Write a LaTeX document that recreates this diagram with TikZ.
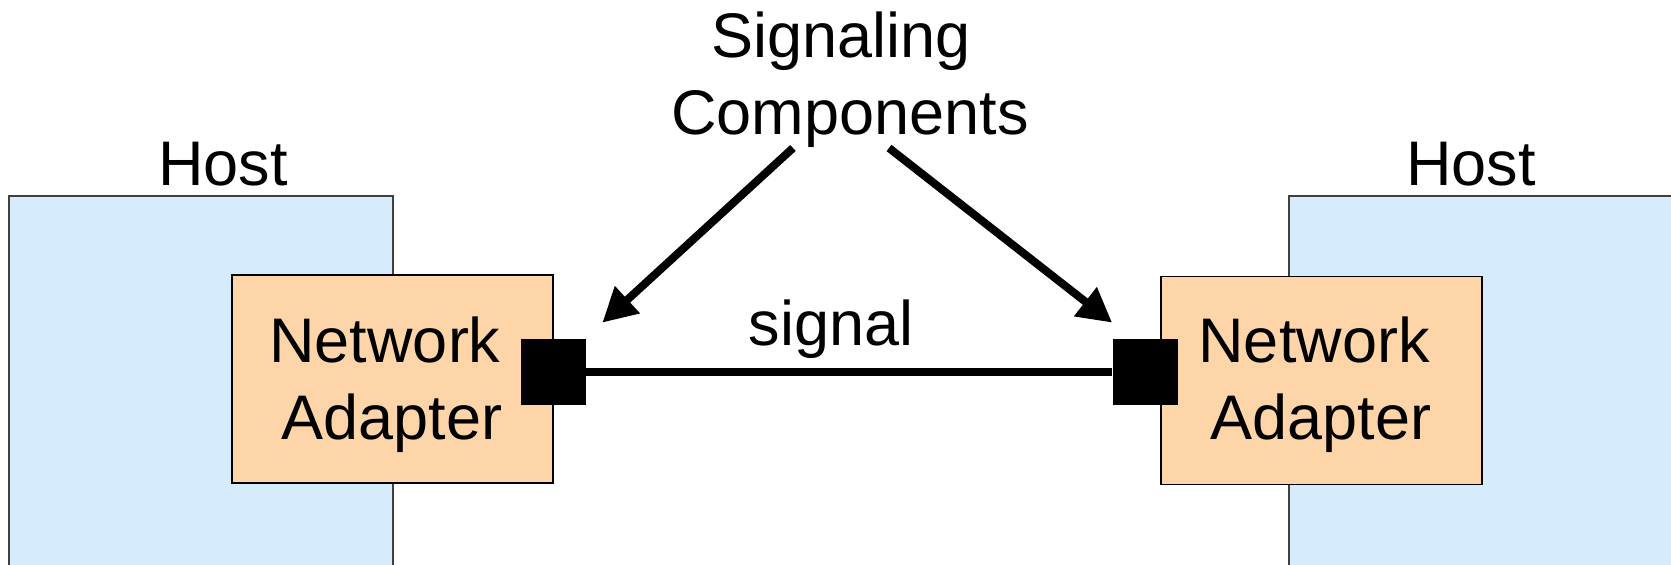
\documentclass[tikz,border=0pt]{standalone}
\usepackage{fontspec}
\setmainfont{Liberation Sans}
\usetikzlibrary{arrows.meta,calc}
\definecolor{hostblue}{RGB}{214,236,252}
\definecolor{adorange}{RGB}{254,213,168}
\definecolor{hostline}{RGB}{64,64,64}
\begin{document}
\begin{tikzpicture}[x=0.5pt,y=-0.5pt,
  lbl/.style={font=\fontsize{31.5}{38.5}\selectfont, inner sep=0pt, align=center},
  hostbox/.style={draw=hostline, line width=1pt, fill=hostblue, inner sep=0pt, minimum height=252pt},
  adapterbox/.style={draw=black, line width=0.8pt, fill=adorange, inner sep=0pt, minimum width=160.5pt, minimum height=104pt},
  port/.style={fill=black, inner sep=0pt, minimum width=32.5pt, minimum height=33pt},
  wire/.style={line width=4pt},
  pointer/.style={line width=4pt, -{Triangle[length=17pt,width=17.5pt]}}]
\useasboundingbox (0,0) rectangle (1671,564);
\clip (0,0) rectangle (1671,564);
% hosts
\node[hostbox, minimum width=192.25pt] (hostL) at (200.75,448) {};
\node[hostbox, minimum width=205.5pt] (hostR) at (1494.5,448) {};
% adapters
\node[adapterbox] (adL) at (392.5,379) {};
\node[adapterbox] (adR) at (1321.5,380.5) {};
\node[lbl] (adLtext) at (392,385) {Network\kern7pt\\Adapter};
\node[lbl] (adRtext) at (1321,385) {Network\kern7pt\\Adapter};
% ports
\node[port] (sqL) at (553,372) {};
\node[port] (sqR) at (1145,372) {};
% signal wire
\draw[wire] (sqL.east) -- (sqR.west);
\node[lbl, anchor=base] (sigtext) at (831,345) {signal};
% labels
\node[lbl, anchor=base] (hostLtext) at (223,185) {Host};
\node[lbl, anchor=base] (hostRtext) at (1471,185) {Host};
\node[lbl] (comp) at (850,79.5) {Signaling\kern9pt\\Components};
% arrows
\coordinate (startL) at (793,148);
\coordinate (startR) at (889,148);
\draw[pointer] (startL) -- ($(sqL.north east)+(16.5,-16)$);
\draw[pointer] (startR) -- ($(sqR.north west)+(0,-16)$);
\end{tikzpicture}
\end{document}
